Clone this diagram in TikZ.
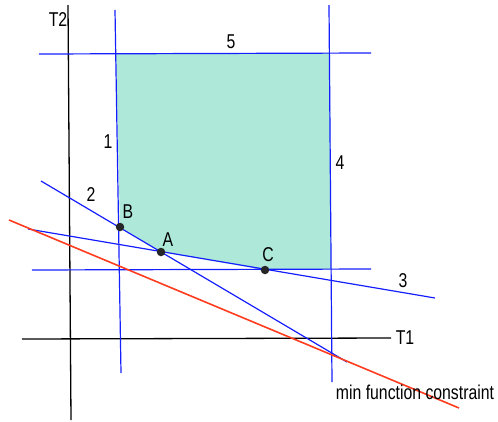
\documentclass[tikz,border=0pt]{standalone}
\usepackage{fontspec}
\setmainfont[FakeStretch=0.79]{Liberation Sans}
\definecolor{feas}{RGB}{173,232,216}
\definecolor{cblue}{RGB}{20,30,255}
\definecolor{cred}{RGB}{255,60,30}
\begin{document}
\begin{tikzpicture}[x=1pt,y=-1pt,
  lbl/.style={inner sep=0pt,font=\fontsize{20}{22}\selectfont},
  bline/.style={draw=cblue,line width=1.2pt},
  axis/.style={draw=black,line width=1.3pt},
  rline/.style={draw=cred,line width=1.6pt},
  dot/.style={circle,fill=black!85,inner sep=0pt,minimum size=8.5pt}]
\useasboundingbox (0,0) rectangle (498,421);
% coordinates
\coordinate (t2a) at (68,5);   \coordinate (t2b) at (71,420);
\coordinate (t1a) at (22,339); \coordinate (t1b) at (391,338);
\coordinate (l5a) at (39,54);  \coordinate (l5b) at (371,53);
\coordinate (l1a) at (115,10); \coordinate (l1b) at (121,373);
\coordinate (l4a) at (329,5);  \coordinate (l4b) at (332,382);
\coordinate (hza) at (32,270); \coordinate (hzb) at (371,269);
\coordinate (l3a) at (28,229); \coordinate (l3b) at (435,298);
\coordinate (l2a) at (41,181); \coordinate (l2b) at (347,362);
\coordinate (ra) at (9,220);   \coordinate (rb) at (459,408);
\coordinate (p1) at (116,54);  \coordinate (p2) at (330,53);
\coordinate (p3) at (331,269);
% feasible region
\fill[feas] (p1) -- (p2) -- (p3) -- (265,270) -- (161,252) -- (120,227) -- cycle;
% lines
\draw[axis] (t2a) -- (t2b);
\draw[axis] (t1a) -- (t1b);
\draw[bline] (l5a) -- (l5b);
\draw[bline] (l1a) -- (l1b);
\draw[bline] (l4a) -- (l4b);
\draw[bline] (hza) -- (hzb);
\draw[bline] (l3a) -- (l3b);
\draw[bline] (l2a) -- (l2b);
\draw[rline] (ra) -- (rb);
% points
\node[dot] (B) at (120,227) {};
\node[dot] (A) at (161,252) {};
\node[dot] (C) at (265,270) {};
% labels
\node[lbl] (lB) at (128,212) {B};
\node[lbl] (lA) at (168,240) {A};
\node[lbl] (lC) at (268,255) {C};
\node[lbl] (n1) at (108,142) {1};
\node[lbl] (n2) at (91,195) {2};
\node[lbl] (n3) at (403,281) {3};
\node[lbl] (n4) at (340,163) {4};
\node[lbl] (n5) at (231,42) {5};
\node[lbl] (T1) at (405,338) {T1};
\node[lbl] (T2) at (58,20) {T2};
\node[lbl] (mf) at (415,392) {min function constraint};
\end{tikzpicture}
\end{document}
